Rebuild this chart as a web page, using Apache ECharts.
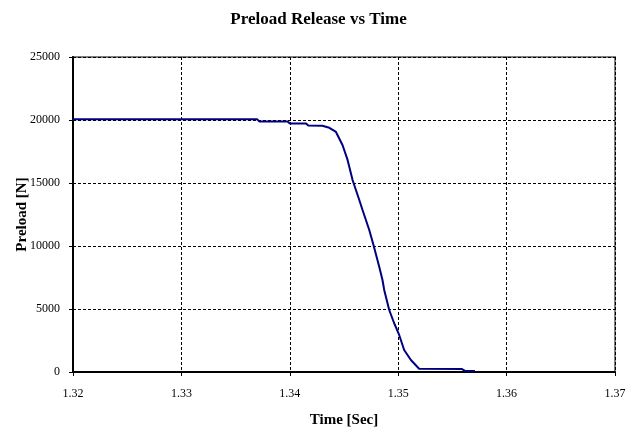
<!DOCTYPE html>
<html>
<head>
<meta charset="utf-8">
<script src="https://cdn.jsdelivr.net/npm/echarts@6/dist/echarts.min.js"></script>
<style>html,body{margin:0;padding:0;background:#fff;}#c{width:637px;height:428px;}</style>
</head>
<body>
<div id="c"></div>
<script>
var titleText = "Preload Release vs Time";
var xName = "Time [Sec]";
var yName = "Preload [N]";
var xTicks = [1.32, 1.33, 1.34, 1.35, 1.36, 1.37];
var yTicks = [0, 5000, 10000, 15000, 20000, 25000];

var time = [1.3200, 1.3370, 1.3372, 1.3398, 1.3400, 1.3415, 1.3417, 1.3430, 1.34365, 1.34426, 1.34487, 1.34533,
            1.34579, 1.34641, 1.34671, 1.34702, 1.34733, 1.34772, 1.34825, 1.34855, 1.34871, 1.34917,
            1.34963, 1.35009, 1.35055, 1.35117, 1.35193, 1.35589, 1.35616, 1.35708];
var preload = [20050, 20050, 19880, 19880, 19720, 19720, 19560, 19540, 19380, 19050, 18000, 16830,
               15240, 13650, 12860, 12060, 11270, 10080, 8360, 7300, 6510, 4920,
               3870, 2940, 1750, 950, 260, 230, 90, 80];

var data = time.map(function (t, i) { return [t, preload[i]]; });

var chart = echarts.init(document.getElementById('c'));
var serif = '"Liberation Serif", "Times New Roman", serif';
chart.setOption({
  animation: false,
  backgroundColor: '#ffffff',
  title: {
    text: titleText,
    left: 'center',
    top: 6,
    textStyle: { fontFamily: serif, fontSize: 17, fontWeight: 'bold', color: '#000' }
  },
  grid: {
    left: 73, right: 22, top: 57, bottom: 56,
    outerBoundsMode: 'none', containLabel: false,
    show: true, borderColor: '#808080', borderWidth: 2, backgroundColor: 'transparent'
  },
  xAxis: {
    type: 'value',
    min: xTicks[0], max: xTicks[xTicks.length - 1], interval: 0.01,
    name: xName, nameLocation: 'middle', nameGap: 41, nameMoveOverlap: false,
    nameTextStyle: { fontFamily: serif, fontSize: 15, fontWeight: 'bold', color: '#000' },
    axisLine: { show: true, lineStyle: { color: '#000', width: 2 } },
    axisTick: { show: true, length: 4, lineStyle: { color: '#000', width: 1 } },
    axisLabel: { fontFamily: serif, fontSize: 12, color: '#000', margin: 16,
      formatter: function (v) { return v.toFixed(2); } },
    splitLine: { show: true, lineStyle: { color: '#000', type: [3, 2], width: 1 } }
  },
  yAxis: {
    type: 'value',
    min: yTicks[0], max: yTicks[yTicks.length - 1], interval: 5000,
    name: yName, nameLocation: 'middle', nameGap: 43, nameRotate: 90, nameMoveOverlap: false,
    nameTextStyle: { fontFamily: serif, fontSize: 15, fontWeight: 'bold', color: '#000' },
    axisLine: { show: true, lineStyle: { color: '#000', width: 2 } },
    axisTick: { show: true, length: 4, lineStyle: { color: '#000', width: 1 } },
    axisLabel: { fontFamily: serif, fontSize: 12, color: '#000', margin: 13,
      formatter: function (v) { return String(v); } },
    splitLine: { show: true, lineStyle: { color: '#000', type: [3, 2], width: 1 } }
  },
  series: [{
    type: 'line',
    data: data,
    showSymbol: false,
    symbol: 'none',
    lineStyle: { color: '#000080', width: 2 },
    itemStyle: { color: '#000080' }
  }]
});
</script>
</body>
</html>
